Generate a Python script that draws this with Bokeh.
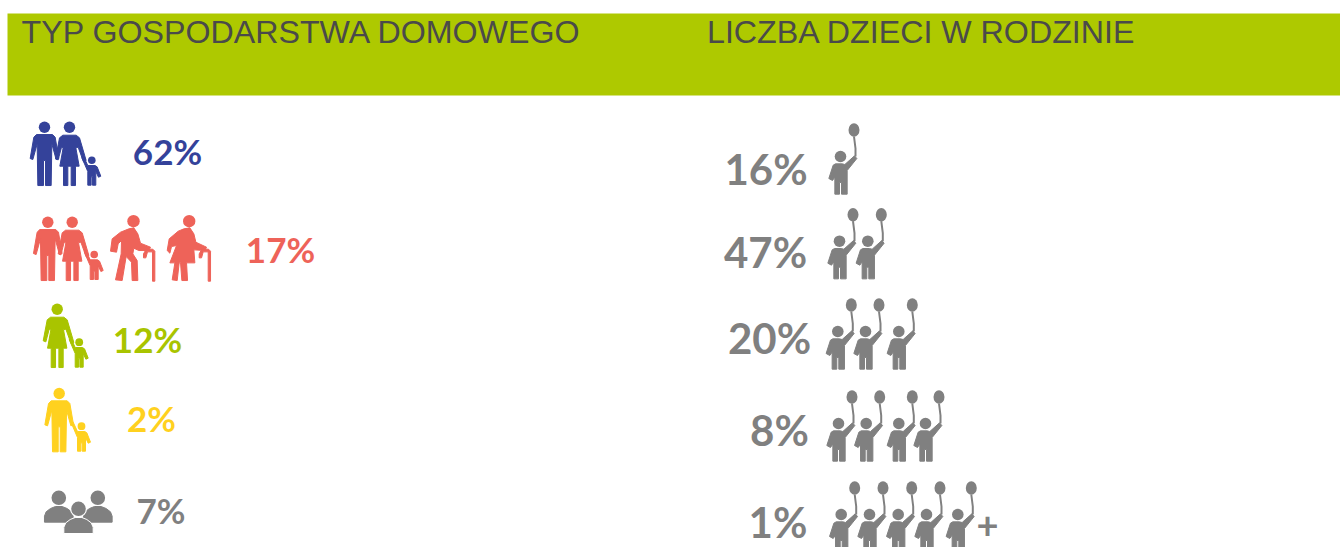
from bokeh.plotting import figure
from bokeh.models import ColumnDataSource, Range1d
from bokeh.core.properties import value
from bokeh.embed import file_html
from bokeh.resources import INLINE

# ---- data -------------------------------------------------------------
headers = ["TYP GOSPODARSTWA DOMOWEGO", "LICZBA DZIECI W RODZINIE"]
household_types = ["couple_child", "multi_generation", "mother_child", "father_child", "other"]
household_share = [62, 17, 12, 2, 7]
children_count = [1, 2, 3, 4, 5]
children_share = [16, 47, 20, 8, 1]
children_suffix = ["", "", "", "", "+"]

# ---- style / layout ---------------------------------------------------
BAND = "#AEC900"
HEAD = "#4A4A4A"
BLUE, RED, GREEN, YELLOW, GRAY = "#34429A", "#EE6359", "#A9C400", "#FFD11F", "#808080"
house_colors = [BLUE, RED, GREEN, YELLOW, GRAY]
house_label_xy = [(167, 150.5), (280, 248), (147, 338.5), (151, 417.5), (160.5, 509.5)]
kids_label_xy = [(765.5, 168), (765, 251), (769, 337), (779, 429.5), (777.5, 521)]
kids_head_x = [[840], [839, 867.3], [837.3, 865, 898.3],
               [838, 865.7, 898.3, 925], [840.7, 869, 897.7, 926, 957.3]]
kids_head_y = [156, 240.7, 331, 423, 514]

# shapes in 3x-pixel units, origin at centre of the head
MAN = [(-24,22),(24,22),(32,30),(43,94),(35,97),(22,50),(20,175),(3,175),(3,100),(-3,100),(-3,175),(-20,175),
       (-22,50),(-35,97),(-43,94),(-32,30)]
WOMAN = [(-20,24),(20,24),(30,32),(50,100),(42,104),(26,60),(19,62),(29,117),(18,117),(18,175),(5,175),(5,117),(-5,117),
         (-5,175),(-18,175),(-18,117),(-29,117),(-19,62),(-24,60),(-34,98),(-42,95),(-30,32)]
CHILD = [(-12,16),(10,16),(16,20),(27,48),(20,51),(12,34),(12,75),(2,75),(2,50),(-2,50),(-2,75),(-12,75),(-12,34),(-30,-8),(-25,-12)]
OLD_MAN = [(-14,23),(1,20),(13,38),(21,66),(51,78),(46,88),(16,88),(1,81),(-2,98),(11,118),(13,178),(-4,178),(-6,123),(-22,106),
           (-34,178),(-54,176),(-37,98),(-36,58),(-46,68),(-51,93),(-69,90),(-64,53),(-39,33)]
OLD_WOMAN = [(-16,23),(2,20),(14,38),(20,63),(52,78),(47,88),(14,86),(17,125),(-8,125),(-5,178),(-22,178),(-26,125),(-30,125),
             (-36,178),(-51,176),(-43,125),(-58,125),(-38,73),(-53,76),(-58,96),(-66,88),(-60,53),(-33,30)]
CANE = [(30,98),(38,84),(58,84),(64,90),(64,180),(57,180),(57,92),(42,92),(37,110),(30,110)]
BALLOON_KID = [(-15,22),(5,22),(13,24),(42,-2),(49,6),(20,42),(20,113),(3,113),(3,78),(-3,78),(-3,113),(-17,113),
               (-17,62),(-24,72),(-35,66),(-22,26)]
GROUP_SIDE = [(-43,23),(-43,5),(-38,-8),(-25,-18),(-10,-24),(10,-24),(25,-18),(38,-8),(43,5),(43,23)]
GROUP_MID = [(-44,24),(-44,5),(-38,-8),(-25,-18),(-10,-24),(10,-24),(25,-18),(38,-8),(44,5),(44,24)]

polys = dict(xs=[], ys=[], color=[], line=[])
heads = dict(x=[], y=[], r=[], color=[])
balloons = dict(x=[], y=[])
strings = dict(xs=[], ys=[])

def poly(shape, x, y, color, s=1/3, line=None):
    polys["xs"].append([x + dx * s for dx, dy in shape])
    polys["ys"].append([y + dy * s for dx, dy in shape])
    polys["color"].append(color)
    polys["line"].append(line or color)

def head(x, y, r, color):
    heads["x"].append(x); heads["y"].append(y); heads["r"].append(r); heads["color"].append(color)

def figure_icon(shape, x, y, r, color):
    head(x, y, r, color)
    poly(shape, x, y, color)

def family(x_man, x_woman, x_kid, y, y_kid, color):
    figure_icon(MAN, x_man, y, 5.7, color)
    figure_icon(WOMAN, x_woman, y, 5.7, color)
    figure_icon(CHILD, x_kid, y_kid, 3.8, color)

# 62%
family(44, 69, 91.3, 126.7, 159.7, BLUE)
# 17%
family(47.3, 71.7, 93.7, 221.7, 254, RED)
figure_icon(OLD_MAN, 133, 220.7, 6.2, RED)
poly(CANE, 133, 220.7, RED)
figure_icon(OLD_WOMAN, 188.7, 220.7, 6.2, RED)
poly(CANE, 188.7, 220.7, RED)
# 12%
figure_icon(WOMAN, 56.7, 308.7, 5.7, GREEN)
figure_icon(CHILD, 78.7, 341.7, 3.9, GREEN)
# 2%
figure_icon(MAN, 58.7, 393, 5.7, YELLOW)
figure_icon(CHILD, 81, 425.7, 3.9, YELLOW)
# 7%
head(58.3, 497.3, 7.3, GRAY); poly(GROUP_SIDE, 58.3, 514, GRAY)
head(97.3, 497.3, 7.3, GRAY); poly(GROUP_SIDE, 97.3, 514, GRAY)
poly(GROUP_MID, 78, 525, GRAY, line="white")
head(78, 508.3, 8.5, "white")
head(78, 508.3, 7.3, GRAY)

# kids with balloons
for n, xs_, y in zip(children_count, kids_head_x, kids_head_y):
    for x in xs_[:n]:
        figure_icon(BALLOON_KID, x, y, 5.8, GRAY)
        balloons["x"].append(x + 13.5); balloons["y"].append(y - 26.5)
        strings["xs"].append([x + 15, x + 15, x + 13.5]); strings["ys"].append([y + 0, y - 8, y - 20])

p = figure(width=1340, height=547, output_backend="svg", toolbar_location=None,
           x_range=Range1d(0, 1340), y_range=Range1d(547, 0), min_border=0,
           background_fill_color="white", border_fill_color="white", outline_line_color=None)
p.axis.visible = False
p.grid.visible = False

p.quad(left=[7], right=[1340], top=[13], bottom=[95], fill_color=BAND, line_color=None)
p.text(x=[21, 706.5], y=[31, 31], text=headers, text_font=value("Liberation Sans"), text_font_size="32.2px",
       text_color=HEAD, text_align="left", text_baseline="middle")

p.patches("xs", "ys", source=ColumnDataSource(polys), fill_color="color", line_color="line", line_width=1)
p.circle("x", "y", radius="r", source=ColumnDataSource(heads), fill_color="color", line_color=None)
p.multi_line("xs", "ys", source=ColumnDataSource(strings), line_color=GRAY, line_width=2)
p.ellipse("x", "y", width=11, height=13.5, source=ColumnDataSource(balloons), fill_color=GRAY, line_color=None)

p.text(x=[c[0] for c in house_label_xy], y=[c[1] for c in house_label_xy],
       text=[f"{v}%" for v in household_share], text_color=house_colors,
       text_font=value("Lato"), text_font_style="bold", text_font_size="35px",
       text_align="center", text_baseline="middle")
p.text(x=[c[0] for c in kids_label_xy], y=[c[1] for c in kids_label_xy],
       text=[f"{v}%" for v in children_share], text_color=GRAY,
       text_font=value("Lato"), text_font_style="bold", text_font_size="42px",
       text_align="center", text_baseline="middle")
p.text(x=[987], y=[524], text=[children_suffix[4]], text_color=GRAY,
       text_font=value("Lato"), text_font_style="bold", text_font_size="38px",
       text_align="center", text_baseline="middle")

open("out.html", "w").write(file_html(p, INLINE))
